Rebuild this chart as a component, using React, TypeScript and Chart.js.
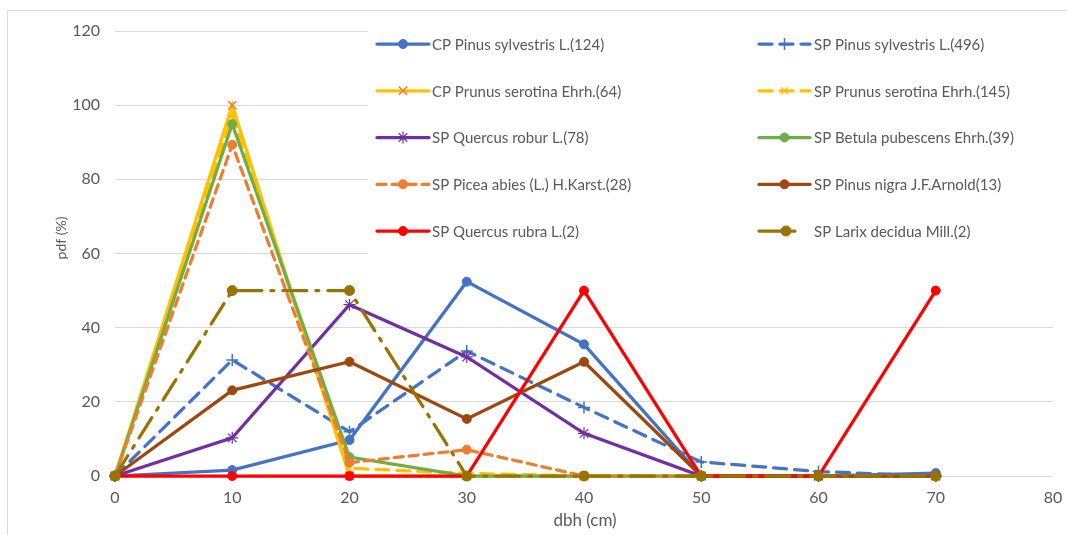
import React, { useEffect, useRef } from 'react';
import { Chart, registerables } from 'chart.js';
import { drawPoint } from 'chart.js/helpers';

Chart.register(...registerables);

// ---- data ----
const dbh = [0, 10, 20, 30, 40, 50, 60, 70];
const yTicks = [0, 20, 40, 60, 80, 100, 120];
const xTicks = [0, 10, 20, 30, 40, 50, 60, 70, 80];

const cpPinusSylvestris = [0, 1.6, 9.7, 52.4, 35.5, 0, 0, 0.8];
const spPinusSylvestris = [0, 31.3, 11.9, 33.7, 18.5, 3.8, 1.2, 0];
const cpPrunusSerotina = [0, 100, 0, 0, 0, 0, 0, 0];
const spPrunusSerotina = [0, 97.2, 2.1, 0.7, 0, 0, 0, 0];
const spQuercusRobur = [0, 10.3, 46.2, 32.1, 11.5, 0, 0, 0];
const spBetulaPubescens = [0, 94.9, 5.1, 0, 0, 0, 0, 0];
const spPiceaAbies = [0, 89.3, 3.6, 7.1, 0, 0, 0, 0];
const spPinusNigra = [0, 23.1, 30.8, 15.4, 30.8, 0, 0, 0];
const spQuercusRubra = [0, 0, 0, 0, 50, 0, 0, 50];
const spLarixDecidua = [0, 50, 50, 0, 0, 0, 0, 0];

const seriesLabels = [
  'CP Pinus sylvestris L.(124)',
  'SP Pinus sylvestris L.(496)',
  'CP Prunus serotina Ehrh.(64)',
  'SP Prunus serotina Ehrh.(145)',
  'SP Quercus robur L.(78)',
  'SP Betula pubescens Ehrh.(39)',
  'SP Picea abies (L.) H.Karst.(28)',
  'SP Pinus nigra J.F.Arnold(13)',
  'SP Quercus rubra L.(2)',
  'SP Larix decidua Mill.(2)',
];
const seriesValues = [
  cpPinusSylvestris, spPinusSylvestris, cpPrunusSerotina, spPrunusSerotina,
  spQuercusRobur, spBetulaPubescens, spPiceaAbies, spPinusNigra,
  spQuercusRubra, spLarixDecidua,
];

// ---- styles ----
const lineColors = ['#4472C4', '#4472C4', '#FFC000', '#FFC000', '#7030A0', '#70AD47', '#ED7D31', '#9E480E', '#FF0000', '#997300'];
const markerColors = ['#4472C4', '#4472C4', '#ED7D31', '#FFC000', '#7030A0', '#70AD47', '#ED7D31', '#9E480E', '#FF0000', '#997300'];
const dashes: number[][] = [[], [13, 8], [], [13, 8], [], [], [9, 6], [], [], [24, 9, 3, 9]];
const markerStyles = ['circle', 'cross', 'crossRot', 'crossRot', 'star', 'circle', 'circle', 'circle', 'circle', 'circle'];
const markerRadius = [4.5, 6, 6, 5, 6, 4.5, 4.5, 4.5, 4.5, 5];
const markerBorder = [1, 1.5, 1.5, 1.2, 1.2, 1, 1, 1, 1, 1];

const FONT = 'Lato';
const TEXT = '#595959';

const decorPlugin = {
  id: 'decor',
  beforeDraw(chart: any) {
    const { ctx, width, height } = chart;
    ctx.save();
    ctx.fillStyle = '#ffffff';
    ctx.fillRect(0, 0, width, height);
    ctx.strokeStyle = '#D9D9D9';
    ctx.lineWidth = 1;
    ctx.strokeRect(7.5, 10.5, width, height);
    ctx.restore();
  },
  afterDraw(chart: any) {
    const { ctx } = chart;
    ctx.save();
    // legend box
    ctx.fillStyle = '#ffffff';
    ctx.fillRect(368, 20, 1053 - 368, 240);
    const colLine = [[377, 429], [759, 810]];
    const colText = [432, 814];
    ctx.font = `15px ${FONT}`;
    ctx.textBaseline = 'middle';
    ctx.textAlign = 'left';
    chart.data.datasets.forEach((ds: any, i: number) => {
      const row = Math.floor(i / 2);
      const col = i % 2;
      const y = 44 + row * 46.75;
      const [x0, x1] = colLine[col];
      const xe = i === 9 ? 796 : x1;
      ctx.save();
      ctx.strokeStyle = lineColors[i];
      ctx.lineWidth = 3.25;
      ctx.lineCap = 'round';
      ctx.setLineDash(dashes[i]);
      ctx.beginPath();
      ctx.moveTo(x0, y);
      ctx.lineTo(xe, y);
      ctx.stroke();
      ctx.restore();
      ctx.save();
      ctx.fillStyle = markerColors[i];
      ctx.strokeStyle = markerColors[i];
      ctx.lineWidth = markerBorder[i];
      const mx = i === 9 ? 786 : (x0 + x1) / 2;
      drawPoint(ctx, { pointStyle: markerStyles[i], rotation: 0, radius: markerRadius[i], borderWidth: markerBorder[i] } as any, mx, y);
      ctx.restore();
      ctx.fillStyle = TEXT;
      ctx.fillText(ds.label, colText[col], y + 1);
    });
    // axis titles
    ctx.fillStyle = TEXT;
    ctx.textAlign = 'center';
    ctx.textBaseline = 'middle';
    ctx.font = `17px ${FONT}`;
    ctx.fillText('dbh (cm)', 585, 521);
    ctx.font = `14px ${FONT}`;
    ctx.translate(61, 238);
    ctx.rotate(-Math.PI / 2);
    ctx.fillText('pdf (%)', 0, 0);
    ctx.restore();
  },
};

export default function App() {
  const ref = useRef<HTMLCanvasElement | null>(null);
  useEffect(() => {
    if (!ref.current) return;
    Chart.defaults.font.family = FONT;
    Chart.defaults.font.size = 15;
    Chart.defaults.color = TEXT;
    const datasets = seriesValues.map((vals, i) => ({
      label: seriesLabels[i],
      data: dbh.map((x, j) => ({ x, y: vals[j] })),
      borderColor: lineColors[i],
      backgroundColor: markerColors[i],
      borderWidth: 3.25,
      borderDash: dashes[i],
      borderCapStyle: 'round' as const,
      pointStyle: markerStyles[i] as any,
      pointRadius: markerRadius[i],
      pointBorderWidth: markerBorder[i],
      pointBackgroundColor: markerColors[i],
      pointBorderColor: markerColors[i],
      tension: 0,
      fill: false,
      clip: false as any,
      order: 10 - i,
    }));
    const chart = new Chart(ref.current, {
      type: 'line',
      data: { datasets },
      options: {
        animation: false,
        responsive: false,
        devicePixelRatio: 1,
        layout: { padding: { left: 0, top: 31, right: 14, bottom: 0 } },
        plugins: { legend: { display: false }, tooltip: { enabled: false } },
        scales: {
          x: {
            type: 'linear',
            min: 0,
            max: 80,
            afterBuildTicks: (s: any) => { s.ticks = xTicks.map((v) => ({ value: v })); },
            afterFit: (s: any) => { s.height = 59; s.paddingLeft = 0; s.paddingRight = 0; },
            grid: { display: false, drawTicks: false },
            border: { display: false },
            ticks: { padding: 12, color: TEXT, font: { size: 16, family: FONT } },
          },
          y: {
            type: 'linear',
            min: 0,
            max: 120,
            afterBuildTicks: (s: any) => { s.ticks = yTicks.map((v) => ({ value: v })); },
            afterFit: (s: any) => { s.width = 115; s.paddingTop = 0; s.paddingBottom = 0; },
            grid: { color: '#D9D9D9', lineWidth: 1, drawTicks: false },
            border: { display: false },
            ticks: { padding: 15, color: TEXT, font: { size: 16, family: FONT } },
          },
        },
      },
      plugins: [decorPlugin],
    });
    return () => chart.destroy();
  }, []);
  return (
    <div style={{ position: 'fixed', left: 0, top: 0, width: 1067, height: 535, background: '#fff' }}>
      <canvas ref={ref} width={1067} height={535} style={{ display: 'block', width: 1067, height: 535 }} />
    </div>
  );
}
